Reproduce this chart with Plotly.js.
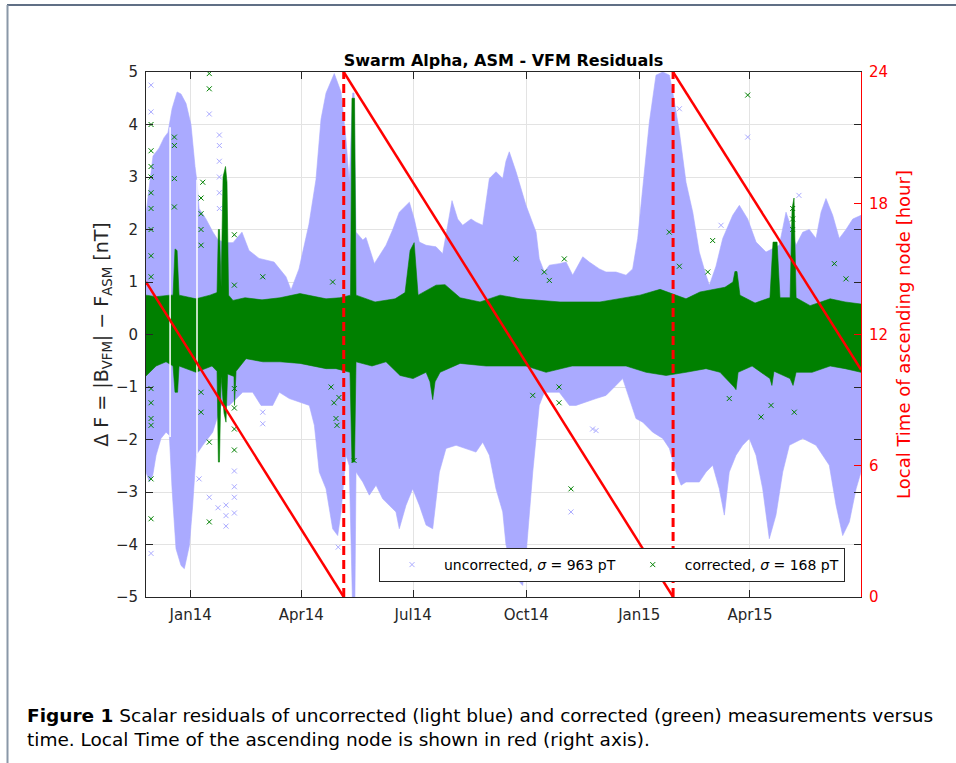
<!DOCTYPE html>
<html>
<head>
<meta charset="utf-8">
<script src="https://cdn.plot.ly/plotly-3.0.1.min.js"></script>
<style>html,body{margin:0;padding:0;background:#fff;}#chart{width:956px;height:763px;}</style>
</head>
<body>
<div id="chart"></div>
<script>
// ---- data (x in days since 2014-01-01) ----
const blueUpDays = [-36.4,-33.9,-30.7,-25.8,-21.7,-18.5,-15.2,-11.1,-7.9,-3.8,
  0.2,3.5,5.1,6.8,12.4,18.1,22.2,28.7,34.4,41.7,
  47.4,55.6,67.8,77.5,81.6,88.1,96.2,101.9,106.0,110.1,
  116.8,122.3,126.4,129.0,131.8,132.9,134.5,140.0,142.6,149.4,
  153.5,158.9,164.4,169.7,177.9,181.9,186.0,191.5,199.6,205.0,
  209.1,212.6,217.2,221.3,228.1,232.1,237.6,243.0,248.4,253.9,
  256.5,259.2,264.7,272.8,281.0,283.6,287.7,291.8,299.9,305.4,
  310.8,319.0,324.3,332.5,337.9,346.0,354.2,359.6,363.7,367.8,
  373.2,378.6,384.1,389.5,392.2,397.6,401.6,403.0,408.5,413.8,
  419.3,422.0,427.4,432.9,441.0,446.4,453.2,460.0,468.1,473.6,
  478.9,484.4,487.1,492.5,498.0,503.3,508.8,512.9,516.9,522.4,
  527.7,533.2,538.7,545.4];
const blueUpVals = [2.3,2.8,3.4,3.55,3.75,3.85,4.3,4.62,4.58,4.4,
  4.0,3.2,2.9,2.4,2.2,1.95,1.8,1.75,1.75,1.95,
  1.6,1.45,1.38,1.1,0.85,1.25,2.1,2.95,4.1,4.6,
  4.97,4.62,3.7,2.9,4.6,4.6,1.95,1.8,1.85,1.35,
  1.5,1.7,2.0,2.33,2.52,2.2,1.76,1.7,1.67,1.54,
  2.08,2.55,2.2,2.08,2.2,2.14,2.08,2.97,3.1,2.97,
  3.3,3.48,3.1,2.46,1.95,1.44,1.19,1.32,1.35,1.38,
  1.13,1.48,1.38,1.25,1.19,1.19,1.13,1.25,1.83,2.78,
  4.05,4.94,5.0,4.94,4.62,3.86,3.22,2.9,2.33,1.57,
  1.13,0.94,1.3,1.83,2.27,2.46,2.2,1.76,1.57,1.63,
  1.7,2.33,2.14,1.7,1.95,2.0,1.83,2.33,2.59,2.27,
  1.83,2.0,2.2,2.27];
const blueLoDays = [-36.4,-33.7,-30.9,-28.2,-24.2,-20.1,-17.4,-15.2,-12.0,-7.9,
  -5.2,-1.1,1.6,4.3,9.8,17.9,24.7,31.4,42.3,50.4,
  57.2,66.7,72.1,80.2,88.4,96.5,100.6,104.6,110.1,115.5,
  119.6,122.3,126.4,129.0,131.5,133.6,134.5,140.0,145.3,150.8,
  156.2,161.6,167.0,169.7,175.2,180.6,186.0,191.5,196.9,202.3,
  207.7,215.9,224.0,232.1,237.6,243.0,248.4,253.9,256.5,262.0,
  267.4,270.1,272.8,278.3,283.6,287.7,299.9,308.1,313.5,321.6,
  329.8,337.9,346.0,351.5,356.9,362.3,367.8,375.9,384.1,389.5,
  394.9,399.0,403.0,408.5,413.8,419.3,424.7,430.1,434.2,438.2,
  443.7,449.1,454.5,460.0,465.4,470.8,476.2,481.7,487.1,498.0,
  508.8,519.6,525.1,530.5,535.9,541.4,545.4];
const blueLoVals = [-2.62,-2.81,-2.68,-2.30,-1.98,-1.86,-1.92,-2.94,-4.08,-4.40,
  -4.46,-4.02,-3.25,-2.30,-2.11,-1.86,-1.35,-1.35,-1.10,-1.10,
  -1.35,-1.35,-1.10,-1.22,-1.29,-1.35,-1.73,-2.62,-2.94,-3.70,
  -3.83,-3.38,-2.30,-2.5,-5.0,-5.0,-2.62,-2.81,-3.06,-2.87,
  -3.13,-3.25,-3.38,-3.70,-3.25,-2.94,-3.25,-3.63,-3.70,-2.62,
  -2.17,-2.11,-2.17,-2.24,-2.05,-2.30,-2.94,-3.38,-4.0,-4.52,
  -4.71,-4.78,-4.21,-2.62,-1.35,-1.10,-1.10,-1.35,-1.35,-1.29,
  -1.22,-1.16,-0.97,-0.84,-1.22,-1.60,-1.67,-1.86,-1.98,-2.17,
  -2.62,-2.87,-2.81,-2.81,-2.81,-2.62,-2.49,-2.94,-3.44,-2.62,
  -2.30,-2.11,-1.98,-2.30,-2.94,-3.89,-3.44,-2.62,-2.11,-1.98,
  -2.11,-2.49,-3.25,-3.83,-3.57,-2.94,-2.62];
const greenUpDays = [-36.4,-28.2,-16.9,-14.4,-12.8,-11.1,-9.5,4.3,15.7,21.4,
  22.5,23.4,24.7,26.3,28.3,29.5,30.8,34.4,44.2,58.0,
  72.6,88.9,110.1,121.4,130.0,131.2,133.3,134.5,150.0,166.3,
  174.4,178.5,181.8,185.0,199.6,206.9,219.2,235.4,251.7,268.0,
  300.5,333.0,365.6,381.9,403.0,414.4,434.7,441.2,442.8,444.5,
  446.9,459.2,471.3,473.8,477.1,479.5,487.7,489.3,490.9,492.6,
  504.0,520.3,532.5,545.4];
const greenUpVals = [0.75,0.72,0.75,0.75,1.63,1.6,0.75,0.68,0.75,0.8,
  2.0,2.0,0.9,3.0,3.2,2.9,0.75,0.65,0.7,0.66,
  0.7,0.78,0.68,0.7,0.75,4.5,4.5,0.75,0.62,0.68,
  0.8,1.6,1.75,0.75,0.94,0.95,0.7,0.62,0.75,0.68,
  0.62,0.62,0.75,0.86,0.68,0.81,0.9,1.0,1.2,1.2,
  0.75,0.6,0.7,1.76,1.76,0.7,0.7,2.4,2.6,0.7,
  0.55,0.68,0.62,0.58];
const greenLoDays = [-36.4,-28.2,-20.1,-14.4,-12.8,-10.7,-9.5,4.3,17.3,21.4,
  22.5,23.4,24.7,27.1,28.7,30.0,35.2,35.6,36.9,45.0,
  58.8,72.6,88.9,110.1,118.2,129.6,131.2,133.3,134.5,147.5,
  158.9,170.3,180.9,191.5,194.7,196.9,198.8,202.9,219.2,240.3,
  256.5,272.8,289.1,310.3,333.0,354.2,370.5,386.8,403.0,419.3,
  430.7,442.1,443.7,445.4,456.8,471.3,472.9,474.6,487.7,490.1,
  492.6,505.6,520.3,532.5,545.4];
const greenLoVals = [-0.79,-0.6,-0.52,-0.6,-1.1,-1.1,-0.6,-0.72,-0.6,-0.7,
  -2.43,-2.43,-0.8,-1.5,-1.67,-0.75,-0.8,-1.35,-0.7,-0.46,
  -0.52,-0.52,-0.55,-0.65,-0.65,-0.72,-2.43,-2.43,-0.52,-0.6,
  -0.52,-0.78,-0.84,-0.72,-0.9,-1.24,-0.9,-0.72,-0.55,-0.6,
  -0.6,-0.6,-0.72,-0.6,-0.6,-0.6,-0.72,-0.78,-0.72,-0.65,
  -0.72,-1.0,-1.05,-0.72,-0.6,-0.84,-0.97,-0.7,-0.84,-0.97,
  -0.72,-0.72,-0.6,-0.65,-0.72];
const blueOutDays = [-32.3,-32.3,-32.3,15.1,23.3,23.3,23.3,23.3,23.3,23.3,28.7,28.7,28.7,35.5,35.5,35.5,35.5,15.1,22.2,6.8,58.6,58.6,120.0,397.6,309.4,329.8,327.0,453.2,431.5,494.9];
const blueOutVals = [4.75,4.24,-4.17,4.2,3.8,3.6,3.3,3.0,2.7,2.4,-3.25,-3.45,-3.65,-2.6,-2.9,-3.1,-3.4,-3.1,-3.3,-2.75,-1.48,-1.7,-4.05,4.3,-3.38,-1.83,-1.8,3.76,2.08,2.65];
const greenOutDays = [-32.3,-32.3,-32.3,-32.3,-32.3,-32.3,-32.3,-32.3,-32.3,-32.3,-32.3,-32.3,-32.3,-32.3,-32.3,
  15.1,15.1,-13.3,-13.3,-13.3,-13.3,9.8,8.4,8.4,8.4,8.4,15.1,15.1,8.4,8.4,35.5,35.5,35.5,35.5,35.5,58.6,35.5,
  114.2,116.6,118.2,119.0,120.6,132.9,115.5,264.7,304.0,287.7,309.4,299.7,299.7,278.3,389.4,397.6,291.8,
  453.2,489.8,489.8,489.8,424.7,420.7,523.7,533.2,464.1,491.1,472.2,438.2];
const greenOutVals = [4.0,3.5,3.2,3.0,2.7,2.4,2.0,1.5,1.1,-1.03,-1.3,-1.6,-1.73,-2.75,-3.51,
  4.97,4.68,3.76,3.6,2.97,2.43,2.9,2.6,2.3,2.0,1.7,-3.57,-2.05,-1.1,-1.48,1.9,-1.03,-1.4,-1.8,-2.2,1.1,0.94,
  -1.0,-1.3,-1.6,-1.73,-1.2,-2.4,1.0,1.44,1.44,1.19,-2.94,-1.0,-1.3,-1.16,1.95,1.3,1.03,
  4.56,2.4,2.2,2.0,1.79,1.19,1.35,1.06,-1.57,-1.48,-1.35,-1.22];
const gapDays = [-16.8,5.1];          // short data gaps (thin white stripes through the cloud)
const gapLow = [-1.95,-2.3], gapHigh = [3.95,2.95];
const ltDays = [-36.4,124.5,null,124.5,392.5,null,392.5,545.4];
const ltHours = [14.4,0,null,24,0,null,24,10.4];
const wrapDays = [124.5,392.5];
const seriesNames = ['uncorrected, <i>σ</i> = 963 pT','corrected, <i>σ</i> = 168 pT'];
const xRangeDays = [-36.4,545.4];
const rightTicks = [0,6,12,18,24];

// ---- helpers ----
const BASE = Date.UTC(2014,0,1);
const toDate = d => d === null ? null : BASE + d*86400000;
const toDates = arr => arr.map(toDate);

const BLUE = '#aaaaff', GREEN = '#008000', RED = '#ff0000', INK = '#262626';
const FONT = 'DejaVu Sans, sans-serif';
const SP = '\u00a0';

const polyX = (a,b) => toDates(a.concat(b.slice().reverse()));
const polyY = (a,b) => a.concat(b.slice().reverse());

const wrapX = [], wrapY = [];
wrapDays.forEach((d,i)=>{ if(i) {wrapX.push(null); wrapY.push(null);} wrapX.push(toDate(d),toDate(d)); wrapY.push(rightTicks[0], rightTicks[rightTicks.length-1]); });
const gapX = [], gapY = [];
gapDays.forEach((d,i)=>{ if(i) {gapX.push(null); gapY.push(null);} gapX.push(toDate(d),toDate(d)); gapY.push(gapLow[i], gapHigh[i]); });

const traces = [
  {x: polyX(blueUpDays, blueLoDays), y: polyY(blueUpVals, blueLoVals), type:'scatter', mode:'lines',
   fill:'toself', fillcolor: BLUE, line:{width:0.6, color: BLUE}, showlegend:false, hoverinfo:'skip'},
  {x: toDates(blueOutDays), y: blueOutVals, type:'scatter', mode:'markers', name: seriesNames[0],
   marker:{symbol:'x-thin-open', size:5, color: BLUE, line:{width:1, color: BLUE}}},
  {x: polyX(greenUpDays, greenLoDays), y: polyY(greenUpVals, greenLoVals), type:'scatter', mode:'lines',
   fill:'toself', fillcolor: GREEN, line:{width:0.6, color: GREEN}, showlegend:false, hoverinfo:'skip'},
  {x: toDates(greenOutDays), y: greenOutVals, type:'scatter', mode:'markers', name: seriesNames[1],
   marker:{symbol:'x-thin-open', size:5, color: GREEN, line:{width:1, color: GREEN}}},
  {x: gapX, y: gapY, type:'scatter', mode:'lines', connectgaps:false,
   line:{color:'#ffffff', width:1.5}, showlegend:false, hoverinfo:'skip'},
  {x: toDates(ltDays), y: ltHours, yaxis:'y2', type:'scatter', mode:'lines', connectgaps:false,
   line:{color: RED, width:2.5}, showlegend:false, hoverinfo:'skip'},
  {x: wrapX, y: wrapY, yaxis:'y2', type:'scatter', mode:'lines', connectgaps:false,
   line:{color: RED, width:3, dash:'9px,5px'}, showlegend:false, hoverinfo:'skip'}
];

const pl = 146, pr = 861, pt = 72, pb = 597, W = 956, H = 763;
const px = x => (x - pl)/(pr - pl);
const py = y => (pb - y)/(pb - pt);

const layout = {
  width: W, height: H,
  margin: {l: pl, r: W - pr, t: pt, b: H - pb, pad: 0},
  paper_bgcolor: '#fff', plot_bgcolor: '#fff',
  font: {family: FONT, size: 15, color: INK},
  title: {text: '<b>Swarm Alpha, ASM - VFM Residuals</b>', font:{family: FONT, size: 16, color:'#000'},
          x: 0.5, xref:'paper', xanchor:'center', y: 1, yref:'paper', yanchor:'bottom', pad:{b:6}},
  xaxis: {type:'date', range: toDates(xRangeDays), tick0: '2014-01-01', dtick:'M3', tickformat:'%b%y',
          ticks:'inside', ticklen:7, tickcolor: INK, showline:true, linecolor: INK, linewidth:1, mirror:'ticks',
          showgrid:true, gridcolor:'#e3e3e3', zeroline:false, tickfont:{size:15, color: INK}, ticklabelstandoff: 4},
  yaxis: {range:[-5,5], dtick:1, ticks:'inside', ticklen:7, tickcolor: INK, showline:true, linecolor: INK,
          linewidth:1, mirror:'ticks', showgrid:true, gridcolor:'#e3e3e3', zeroline:false,
          tickfont:{size:15, color: INK}, ticklabelstandoff: 4,
          title:{text:'Δ F' + SP + '=' + SP + '|B<sub>VFM</sub>|' + SP + '−' + SP + 'F<sub>ASM</sub>' + SP + '[nT]',
                 font:{size:19, color: INK}, standoff: 2}},
  yaxis2: {overlaying:'y', side:'right', range:[0,24], tickvals: rightTicks, ticks:'inside', ticklen:7,
           tickcolor: RED, showline:true, linecolor: RED, linewidth:1, showgrid:false, zeroline:false,
           tickfont:{size:15, color: RED}, ticklabelstandoff: 4,
           title:{text:'Local Time of ascending node [hour]', font:{size:18, color: RED}, standoff: 10}},
  legend: {orientation:'h', x: px(845), xanchor:'right', y: py(582), yanchor:'bottom', itemwidth: 54,
           bgcolor:'#fff', bordercolor: INK, borderwidth:1, font:{size:14, color:'#000'}},
  showlegend: true,
  shapes: [
    {type:'line', xref:'paper', yref:'paper', x0: px(7), x1: px(W), y0: py(5), y1: py(5),
     line:{color:'#2b3f5c', width:1.5}},
    {type:'line', xref:'paper', yref:'paper', x0: px(7.5), x1: px(7.5), y0: py(5), y1: py(H),
     line:{color:'#8a98a8', width:2}}
  ],
  annotations: [
    {xref:'paper', yref:'paper', x: px(25), y: py(703), xanchor:'left', yanchor:'top', align:'left',
     showarrow:false, font:{family: FONT, size:18.5, color:'#000'},
     text:'<b>Figure 1</b> Scalar residuals of uncorrected (light blue) and corrected (green) measurements versus<br>time. Local Time of the ascending node is shown in red (right axis).'}
  ]
};

Plotly.newPlot('chart', traces, layout, {displayModeBar:false, staticPlot:true});
</script>
</body>
</html>
